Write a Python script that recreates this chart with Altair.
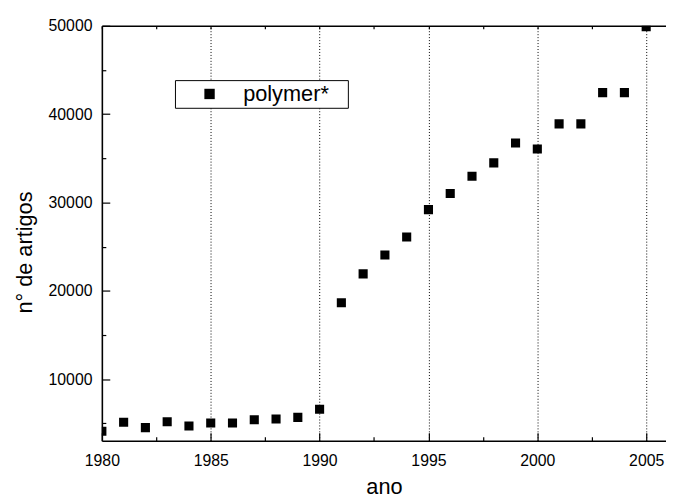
import altair as alt
import pandas as pd

# ---- data ----
years = list(range(1980, 2006))
articles = [4120, 5130, 4520, 5190, 4710, 5050, 5050, 5420, 5500, 5690, 6610,
            18660, 21930, 24060, 26100, 29200, 31020, 32970, 34490, 36730, 36060,
            38900, 38900, 42430, 42430, 49900]
series_name = ["polymer*"] * len(years)

x_major = [1980, 1985, 1990, 1995, 2000, 2005]
x_minor = [1982.5, 1987.5, 1992.5, 1997.5, 2002.5]
x_grid = [1985, 1990, 1995, 2000, 2005]
y_major = [10000, 20000, 30000, 40000, 50000]
y_minor = [5000, 15000, 25000, 35000, 45000]

x_domain = [1980, 2005.91]
y_domain = [3040, 50000]

W, H = 571, 420
FONT = "Liberation Sans"

df = pd.DataFrame({"ano": years, "artigos": articles, "serie": series_name})

xs = alt.Scale(domain=x_domain, nice=False, zero=False)
ys = alt.Scale(domain=y_domain, nice=False, zero=False)

base = alt.Chart(df)


def inward(n):
    return alt.ExprRef(expr=str(-n))


def tick_axis(orient, values, size):
    return alt.Axis(orient=orient, values=values, labels=False,
                    domain=False, grid=False, ticks=True, tickSize=inward(size),
                    tickColor="black", tickWidth=1.2, title=None)


def hidden(xaxis, yaxis):
    return base.mark_point(opacity=0).encode(
        x=alt.X("ano:Q", scale=xs, axis=xaxis),
        y=alt.Y("artigos:Q", scale=ys, axis=yaxis),
    )


x_main = alt.Axis(orient="bottom", values=x_major, format="d", labelFont=FONT,
                  labelFontSize=16, labelColor="black", labelPadding=20,
                  labelFlush=False, labelOverlap=False, ticks=True,
                  tickSize=inward(8), tickColor="black", tickWidth=1.2,
                  domain=True, domainColor="black", domainWidth=1.6, grid=False,
                  title="ano", titleFont=FONT, titleFontSize=22,
                  titleFontWeight="normal", titleColor="black", titleY=53,
                  titleBaseline="alphabetic")

y_main = alt.Axis(orient="left", values=y_major, format="d", labelFont=FONT,
                  labelFontSize=16, labelColor="black", labelPadding=18,
                  labelOverlap=False, ticks=True, tickSize=inward(8),
                  tickColor="black", tickWidth=1.2, domain=True,
                  domainColor="black", domainWidth=1.6, grid=False,
                  title="n° de artigos", titleFont=FONT, titleFontSize=22,
                  titleFontWeight="normal", titleColor="black", titleAngle=270,
                  titleX=-78, titleY=229, titleAlign="center",
                  titleBaseline="middle")

points = base.mark_point(filled=True, size=85, opacity=1, color="black",
                         clip=True).encode(
    x=alt.X("ano:Q", scale=xs, axis=x_main),
    y=alt.Y("artigos:Q", scale=ys, axis=y_main),
    shape=alt.Shape("serie:N", scale=alt.Scale(range=["square"]),
                    legend=alt.Legend(title=None, orient="none", legendX=74,
                                      legendY=55, strokeColor="black",
                                      fillColor="white", padding=3,
                                      cornerRadius=0, symbolOffset=21,
                                      symbolType="square", symbolSize=110,
                                      symbolFillColor="black",
                                      symbolStrokeWidth=0, labelFont=FONT,
                                      labelFontSize=22, labelColor="black",
                                      labelOffset=23,
                                      labelExpr="datum.label + '\u2800'")),
)

layer_minor = hidden(tick_axis("bottom", x_minor, 4), tick_axis("left", y_minor, 4))
layer_frame = hidden(
    alt.Axis(orient="top", values=x_grid, labels=False, ticks=False, domain=True,
             domainColor="black", domainWidth=1.6, grid=True, gridColor="black",
             gridDash=[1, 2], gridWidth=1, title=None),
    None)
layer_top_ticks = hidden(tick_axis("top", x_major + x_minor, 3), None)

chart = alt.layer(layer_frame, layer_minor, layer_top_ticks, points).resolve_axis(
    x="independent", y="independent"
).properties(
    width=W, height=H,
    padding={"left": 95, "top": 15, "right": 0, "bottom": 59},
    autosize=alt.AutoSizeParams(type="none"),
    background="white",
).configure_view(stroke=None)

chart.save("out.html", embed_options={"renderer": "svg", "actions": False})
